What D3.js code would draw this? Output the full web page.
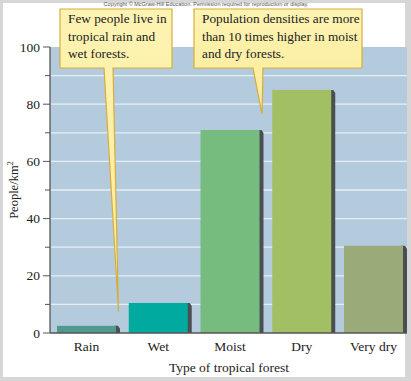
<!DOCTYPE html>
<html lang="en">
<head>
<meta charset="UTF-8">
<title>Tropical forest population</title>
<style>
  body { margin: 0; background: #fff; }
  svg { display: block; }
</style>
</head>
<body>
<svg id="chart" width="411" height="381"></svg>
<script src="https://d3js.org/d3.v7.min.js"></script>
<script>
  // data
  var forestTypes = ["Rain", "Wet", "Moist", "Dry", "Very dry"];
  var density = [2.5, 10.5, 71, 85, 30.5];
  var barColors = ["#4f9a8c", "#00aa9e", "#77bc7f", "#a3bf63", "#9aab79"];
  var yTicks = [0, 20, 40, 60, 80, 100];
  var gridVals = [10, 20, 30, 40, 50, 60, 70, 80, 90];

  var svg = d3.select("#chart"),
      W = 411, H = 381,
      plotL = 50, plotR = 407, plotT = 47, plotB = 333;

  // grey frame with white panel
  svg.append("rect").attr("width", W).attr("height", H).attr("fill", "#d6d6d6");
  svg.append("rect").attr("x", 3).attr("y", 3).attr("width", 402).attr("height", 374).attr("fill", "#fff");

  svg.append("text")
    .attr("x", 206).attr("y", 6)
    .attr("text-anchor", "middle")
    .attr("font-family", "Liberation Sans, Arial, sans-serif")
    .attr("font-size", 5.5)
    .attr("fill", "#555")
    .text("Copyright \u00A9 McGraw-Hill Education. Permission required for reproduction or display.");

  var x = d3.scaleBand().domain(forestTypes).range([57, 405]).paddingInner(0.15).paddingOuter(0);
  var y = d3.scaleLinear().domain([0, 100]).range([plotB, plotT]);

  // plot background
  svg.append("rect")
    .attr("x", plotL).attr("y", plotT)
    .attr("width", plotR - plotL).attr("height", plotB - plotT)
    .attr("fill", "#b4cbdd");

  // grid
  svg.append("g").selectAll("line").data(gridVals).enter().append("line")
    .attr("x1", plotL + 1).attr("x2", plotR)
    .attr("y1", function (d) { return y(d); })
    .attr("y2", function (d) { return y(d); })
    .attr("stroke", "#e6eef4").attr("stroke-width", 1.3);

  // bars with shadow on the right
  var bars = forestTypes.map(function (t, i) { return { type: t, value: density[i], color: barColors[i] }; });

  var bg = svg.append("g");
  bg.selectAll("path.shadow").data(bars).enter().append("path")
    .attr("class", "shadow")
    .attr("d", function (d) {
      var x0 = x(d.type) + x.bandwidth() - 4, x1 = x(d.type) + x.bandwidth() + 2;
      var yt = y(d.value);
      return "M" + x0 + "," + yt + "L" + (x1 - 2) + "," + yt + "L" + x1 + "," + (yt + 3) +
             "L" + x1 + "," + plotB + "L" + x0 + "," + plotB + "Z";
    })
    .attr("fill", "#4a4f52");

  bg.selectAll("rect.bar").data(bars).enter().append("rect")
    .attr("class", "bar")
    .attr("x", function (d) { return x(d.type); })
    .attr("y", function (d) { return y(d.value); })
    .attr("width", x.bandwidth() - 2)
    .attr("height", function (d) { return plotB - y(d.value); })
    .attr("fill", function (d) { return d.color; });

  // axes
  var axisG = svg.append("g").attr("font-family", "Liberation Serif, Times New Roman, serif");
  axisG.append("line").attr("x1", plotL).attr("x2", plotL).attr("y1", plotT).attr("y2", plotB)
    .attr("stroke", "#555").attr("stroke-width", 1.3);
  axisG.append("line").attr("x1", plotL).attr("x2", plotR).attr("y1", plotB).attr("y2", plotB)
    .attr("stroke", "#555").attr("stroke-width", 1.3);

  axisG.selectAll("line.tick").data(d3.range(0, 101, 10)).enter().append("line")
    .attr("class", "tick")
    .attr("x1", function (d) { return d % 20 === 0 ? plotL - 7 : plotL - 5; })
    .attr("x2", plotL)
    .attr("y1", function (d) { return y(d); })
    .attr("y2", function (d) { return y(d); })
    .attr("stroke", "#555").attr("stroke-width", 1);

  axisG.selectAll("text.ylab").data(yTicks).enter().append("text")
    .attr("class", "ylab")
    .attr("x", plotL - 10)
    .attr("y", function (d) { return y(d) + 4.5; })
    .attr("text-anchor", "end")
    .attr("font-size", 13.5)
    .attr("fill", "#222")
    .text(function (d) { return d; });

  axisG.selectAll("text.xlab").data(forestTypes).enter().append("text")
    .attr("class", "xlab")
    .attr("x", function (d) { return x(d) + x.bandwidth() / 2 - 1; })
    .attr("y", 351)
    .attr("text-anchor", "middle")
    .attr("font-size", 13.5)
    .attr("fill", "#222")
    .text(function (d) { return d; });

  axisG.append("text")
    .attr("x", 229).attr("y", 372)
    .attr("text-anchor", "middle")
    .attr("font-size", 13.5)
    .attr("fill", "#222")
    .text("Type of tropical forest");

  var yTitle = axisG.append("text")
    .attr("transform", "translate(18,190) rotate(-90)")
    .attr("text-anchor", "middle")
    .attr("font-size", 12.5)
    .attr("fill", "#222");
  yTitle.append("tspan").text("People/km");
  yTitle.append("tspan").attr("dy", -5).attr("font-size", 8.5).text("2");

  // callouts
  var defs = svg.append("defs");
  var grad = defs.append("linearGradient").attr("id", "note").attr("x1", 0).attr("x2", 0).attr("y1", 0).attr("y2", 1);
  grad.append("stop").attr("offset", 0).attr("stop-color", "#fdf3b2");
  grad.append("stop").attr("offset", 1).attr("stop-color", "#fbeb98");

  var notes = [
    { box: [60, 9, 112, 59], tail: [104, 113], tipCat: "Rain", tipVal: 7.5,
      lines: ["Few people live in", "tropical rain and", "wet forests."] },
    { box: [194, 9, 168, 59], tail: [253, 263], tipCat: "Moist", tipVal: 76.5,
      lines: ["Population densities are more", "than 10 times higher in moist", "and dry forests."] }
  ];

  notes.forEach(function (n) {
    var bx = n.box[0], by = n.box[1], bw = n.box[2], bh = n.box[3];
    var tipX = x(n.tipCat) + x.bandwidth() + 0.5, tipY = y(n.tipVal);
    var g = svg.append("g");
    g.append("path")
      .attr("d", "M" + bx + "," + by + "H" + (bx + bw) + "V" + (by + bh) +
        "H" + n.tail[1] + "L" + tipX + "," + tipY + "L" + n.tail[0] + "," + (by + bh) +
        "H" + bx + "Z")
      .attr("fill", "url(#note)")
      .attr("stroke", "#d6ad3c")
      .attr("stroke-width", 1.2)
      .attr("stroke-linejoin", "miter");
    g.selectAll("text").data(n.lines).enter().append("text")
      .attr("x", bx + 8)
      .attr("y", function (d, i) { return by + 14 + i * 17.5; })
      .attr("font-family", "Liberation Serif, Times New Roman, serif")
      .attr("font-size", 13.3)
      .attr("fill", "#222")
      .text(function (d) { return d; });
  });
</script>
</body>
</html>
